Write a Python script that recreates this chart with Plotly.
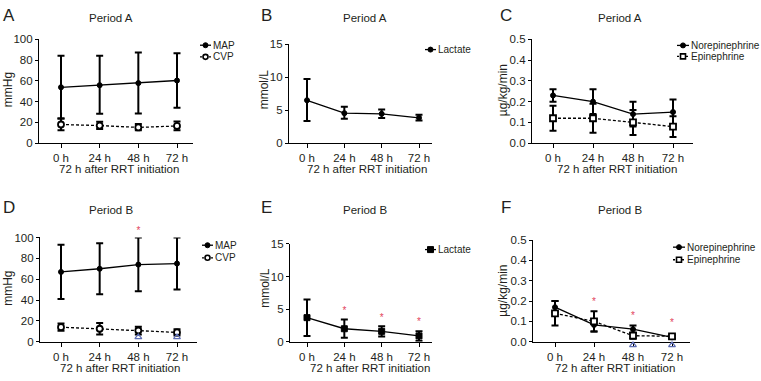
import plotly.graph_objects as go

W, H = 761, 381
FONT = "Liberation Sans, Arial, sans-serif"
INK = "#231f20"
RED = "#e2445c"
BLUE = "#5d6db3"

# ---------------- data ----------------
times = ["0 h", "24 h", "48 h", "72 h"]
xpos = [0, 1, 2, 3]

# Panel A (Period A) – MAP / CVP, mmHg
a_map_mean = [53.8, 55.8, 57.8, 60.3]
a_map_hi = [84, 84, 87.2, 86.5]
a_map_lo = [23.7, 28.3, 28.6, 34.2]
a_cvp_mean = [18, 17, 15.2, 16.6]
a_cvp_hi = [23.8, 20.6, 18.6, 21]
a_cvp_lo = [12.4, 13.6, 12.6, 12.4]

# Panel B (Period A) – Lactate, mmol/L
b_lac_mean = [6.5, 4.55, 4.45, 3.85]
b_lac_hi = [9.7, 5.5, 5.1, 4.3]
b_lac_lo = [3.35, 3.7, 3.8, 3.45]

# Panel C (Period A) – vasopressors, µg/kg/min
c_ne_mean = [0.23, 0.20, 0.14, 0.15]
c_ne_hi = [0.26, 0.26, 0.20, 0.21]
c_ne_lo = [0.20, 0.14, 0.08, 0.09]
c_epi_mean = [0.12, 0.12, 0.10, 0.08]
c_epi_hi = [0.18, 0.19, 0.16, 0.13]
c_epi_lo = [0.06, 0.05, 0.04, 0.03]

# Panel D (Period B) – MAP / CVP
d_map_mean = [67, 70, 74, 75]
d_map_hi = [93, 94.5, 100, 100]
d_map_lo = [41, 45.5, 48.5, 50]
d_cvp_mean = [14, 12.5, 10.8, 9]
d_cvp_hi = [17.5, 18, 14.5, 12]
d_cvp_lo = [10.5, 7, 7, 6]
d_star_x = [2]
d_star_y = [106]
d_tri_x = [2, 3]
d_tri_y = [4.5, 4.5]

# Panel E (Period B) – Lactate
e_lac_mean = [3.7, 2.0, 1.6, 0.9]
e_lac_hi = [6.5, 3.4, 2.4, 1.6]
e_lac_lo = [0.9, 0.6, 0.8, 0.15]
e_star_x = [1, 2, 3]
e_star_y = [4.6, 3.6, 2.9]

# Panel F (Period B) – vasopressors
f_ne_mean = [0.17, 0.083, 0.062, 0.022]
f_ne_hi = [0.20, 0.11, 0.08, 0.03]
f_ne_lo = [0.145, 0.05, 0.045, 0.014]
f_epi_mean = [0.14, 0.10, 0.03, 0.027]
f_epi_hi = [0.20, 0.15, 0.045, 0.035]
f_epi_lo = [0.08, 0.05, 0.015, 0.019]
f_star_x = [1, 2, 3]
f_star_y = [0.195, 0.124, 0.092]
f_tri_x = [2, 3]
f_tri_y = [-0.016, -0.016]

# ---------------- layout helpers ----------------
def px(x):
    return x / W


def py(y):
    return 1 - y / H


fig = go.Figure()

# panel geometry in pixels: x-axis left/right, first & last category px, y top/bottom px
panels = {
    "A": dict(n=1, xl=39, xr=193, c0=61, c3=177, yt=34.3, yb=141.7, yr=[0, 100], yt_vals=[0, 20, 40, 60, 80, 100], fmt=None),
    "B": dict(n=2, xl=289, xr=432, c0=307, c3=419, yt=39.3, yb=141.7, yr=[0, 15], yt_vals=[0, 5, 10, 15], fmt=None),
    "C": dict(n=3, xl=532, xr=693, c0=553, c3=673, yt=34.3, yb=141.7, yr=[0, 0.5], yt_vals=[0, 0.1, 0.2, 0.3, 0.4, 0.5], fmt=".1f"),
    "D": dict(n=4, xl=40, xr=197, c0=61, c3=177, yt=239, yb=346.7, yr=[0, 100], yt_vals=[0, 20, 40, 60, 80, 100], fmt=None),
    "E": dict(n=5, xl=290, xr=432, c0=307, c3=419, yt=245.7, yb=346.7, yr=[0, 15], yt_vals=[0, 5, 10, 15], fmt=None),
    "F": dict(n=6, xl=533, xr=690, c0=555, c3=672, yt=241.7, yb=346.7, yr=[0, 0.5], yt_vals=[0, 0.1, 0.2, 0.3, 0.4, 0.5], fmt=".1f"),
}

for key, p in panels.items():
    n = p["n"]
    sfx = "" if n == 1 else str(n)
    step = (p["c3"] - p["c0"]) / 3
    xr = [-(p["c0"] - p["xl"]) / step, (p["xr"] - p["c0"]) / step]
    fig.layout["xaxis" + sfx] = dict(
        domain=[px(p["xl"]), px(p["xr"])], range=xr, anchor="y" + sfx,
        tickvals=xpos, ticktext=times, ticks="outside", ticklen=4, tickwidth=1.2,
        tickcolor="black", showline=True, linecolor="black", linewidth=1.2,
        showgrid=False, zeroline=False, fixedrange=True,
        tickfont=dict(family=FONT, size=11.5, color=INK),
    )
    ya = dict(
        domain=[py(p["yb"]), py(p["yt"])], range=p["yr"], anchor="x" + sfx,
        tickvals=p["yt_vals"], ticks="outside", ticklen=3, tickwidth=1.2,
        tickcolor="black", showline=True, linecolor="black", linewidth=1.2,
        showgrid=False, zeroline=False, fixedrange=True,
        tickfont=dict(family=FONT, size=11.5, color=INK),
    )
    if p["fmt"]:
        ya["tickformat"] = p["fmt"]
    fig.layout["yaxis" + sfx] = ya


# hidden companion y axes with the same scale as D / F but a wider span,
# so that significance marks lying just outside the plotted range stay visible
def companion(n, new_n, lo, hi):
    p = panels["DEF"[n - 4]]
    scale = (p["yb"] - p["yt"]) / (p["yr"][1] - p["yr"][0])
    top_px = p["yb"] - (hi - p["yr"][0]) * scale
    bot_px = p["yb"] + (p["yr"][0] - lo) * scale
    fig.layout["yaxis" + str(new_n)] = dict(
        domain=[py(bot_px), py(top_px)], range=[lo, hi], visible=False,
        fixedrange=True, anchor="x" + str(n), showgrid=False, zeroline=False)


companion(4, 8, -10, 120)
companion(6, 9, -0.05, 0.6)


def series(n, mean, lo, hi, dash, symbol, size, fill, mlw):
    sfx = "" if n == 1 else str(n)
    fig.add_trace(go.Scatter(
        x=xpos, y=mean, xaxis="x" + sfx, yaxis="y" + sfx,
        mode="lines+markers", cliponaxis=False, showlegend=False,
        line=dict(color="black", width=1.3, dash=dash),
        marker=dict(symbol=symbol, size=size, color=fill,
                    line=dict(color="black", width=mlw)),
        error_y=dict(type="data", symmetric=False,
                     array=[h - m for h, m in zip(hi, mean)],
                     arrayminus=[m - l for m, l in zip(mean, lo)],
                     color="black", thickness=2, width=3.5),
    ))


def stars(xa, ya, xs, ys):
    fig.add_trace(go.Scatter(
        x=xs, y=ys, xaxis=xa, yaxis=ya, mode="text",
        text=["*"] * len(xs), cliponaxis=False, showlegend=False,
        textposition="middle center",
        textfont=dict(family=FONT, size=10, color=RED),
    ))


def tris(xa, ya, xs, ys):
    fig.add_trace(go.Scatter(
        x=xs, y=ys, xaxis=xa, yaxis=ya, mode="markers",
        cliponaxis=False, showlegend=False,
        marker=dict(symbol="triangle-up-open", size=6, color=BLUE,
                    line=dict(width=1.2, color=BLUE)),
    ))


DASH = "3px,2px"
# A
series(1, a_map_mean, a_map_lo, a_map_hi, "solid", "circle", 5, "black", 1)
series(1, a_cvp_mean, a_cvp_lo, a_cvp_hi, DASH, "circle", 6, "white", 1.8)
# B
series(2, b_lac_mean, b_lac_lo, b_lac_hi, "solid", "circle", 5, "black", 1)
# C
series(3, c_ne_mean, c_ne_lo, c_ne_hi, "solid", "circle", 5, "black", 1)
series(3, c_epi_mean, c_epi_lo, c_epi_hi, DASH, "square", 6, "white", 1.8)
# D
series(4, d_map_mean, d_map_lo, d_map_hi, "solid", "circle", 5, "black", 1)
series(4, d_cvp_mean, d_cvp_lo, d_cvp_hi, DASH, "circle", 6, "white", 1.8)
tris("x4", "y8", d_tri_x, d_tri_y)
stars("x4", "y8", d_star_x, d_star_y)
# E
series(5, e_lac_mean, e_lac_lo, e_lac_hi, "solid", "square", 6, "black", 1)
stars("x5", "y5", e_star_x, e_star_y)
# F
series(6, f_ne_mean, f_ne_lo, f_ne_hi, "solid", "circle", 5, "black", 1)
series(6, f_epi_mean, f_epi_lo, f_epi_hi, DASH, "square", 6, "white", 1.8)
tris("x6", "y9", f_tri_x, f_tri_y)
stars("x6", "y9", f_star_x, f_star_y)

# ---------------- legends (drawn on a pixel overlay axis) ----------------
fig.layout["xaxis7"] = dict(domain=[0, 1], range=[0, W], visible=False, fixedrange=True)
fig.layout["yaxis7"] = dict(domain=[0, 1], range=[H, 0], visible=False, fixedrange=True, anchor="x7")

annotations = []


def legend_item(x0, x1, y, label, dash, symbol, size, fill, mlw):
    xm = (x0 + x1) / 2
    fig.add_trace(go.Scatter(x=[x0, x1], y=[y, y], xaxis="x7", yaxis="y7", mode="lines",
                             line=dict(color="black", width=1.3, dash="2px,1px" if dash != "solid" else "solid"),
                             showlegend=False, hoverinfo="skip"))
    fig.add_trace(go.Scatter(x=[xm], y=[y], xaxis="x7", yaxis="y7", mode="markers",
                             marker=dict(symbol=symbol, size=size, color=fill, line=dict(color="black", width=mlw)),
                             showlegend=False, hoverinfo="skip"))
    annotations.append(dict(x=px(x1 + 1), y=py(y), xref="paper", yref="paper", text=label,
                            showarrow=False, xanchor="left", yanchor="middle", borderpad=0,
                            font=dict(family=FONT, size=10, color=INK)))


legend_item(200, 211, 40.5, "MAP", "solid", "circle", 5, "black", 1)
legend_item(200, 211, 52.5, "CVP", "dash", "circle", 5, "white", 1.6)
legend_item(425, 436, 45, "Lactate", "solid", "circle", 5, "black", 1)
legend_item(677, 689, 40.7, "Norepinephrine", "solid", "circle", 5, "black", 1)
legend_item(677, 689, 52, "Epinephrine", "dash", "square", 5, "white", 1.6)
legend_item(202, 213, 247, "MAP", "solid", "circle", 5, "black", 1)
legend_item(202, 213, 260, "CVP", "dash", "circle", 5, "white", 1.6)
legend_item(425, 436, 251.5, "Lactate", "solid", "square", 6, "black", 1)
legend_item(673, 685, 249, "Norepinephrine", "solid", "circle", 5, "black", 1)
legend_item(673, 685, 262, "Epinephrine", "dash", "square", 5, "white", 1.6)


def txt(x, y, s, size, angle=0, anchor="center"):
    annotations.append(dict(x=px(x), y=py(y), xref="paper", yref="paper", text=s,
                            showarrow=False, xanchor=anchor, yanchor="middle", textangle=angle,
                            borderpad=0, font=dict(family=FONT, size=size, color=INK)))


# panel letters
for s, x, y in [("A", 9, 10), ("B", 266, 10), ("C", 506, 10), ("D", 9, 208), ("E", 266, 208), ("F", 506, 208)]:
    txt(x, y, s, 17)
# panel titles
for s, x, y in [("Period A", 111, 12), ("Period A", 365, 12), ("Period A", 620, 12),
                ("Period B", 111, 211), ("Period B", 365, 211), ("Period B", 620, 211)]:
    txt(x, y, s, 11.5)
# x titles
for x, y in [(119, 168), (367, 168), (617, 168), (120, 374), (370, 374), (615, 374)]:
    txt(x, y, "72 h after RRT initiation", 11.5)
# y titles
for s, x, y in [("mmHg", 8, 87), ("mmol/L", 264, 86), ("µg/kg/min", 503, 87),
                ("mmHg", 8, 292), ("mmol/L", 265, 291), ("µg/kg/min", 503, 294)]:
    txt(x, y, s, 12, angle=-90)

fig.update_layout(
    width=W, height=H, margin=dict(l=0, r=0, t=0, b=0),
    paper_bgcolor="white", plot_bgcolor="rgba(0,0,0,0)",
    showlegend=False, annotations=annotations,
    font=dict(family=FONT, color=INK),
)

fig.write_html("out.html", config={"displayModeBar": False},
               post_script="document.body.style.margin='0';document.body.style.padding='0';")
